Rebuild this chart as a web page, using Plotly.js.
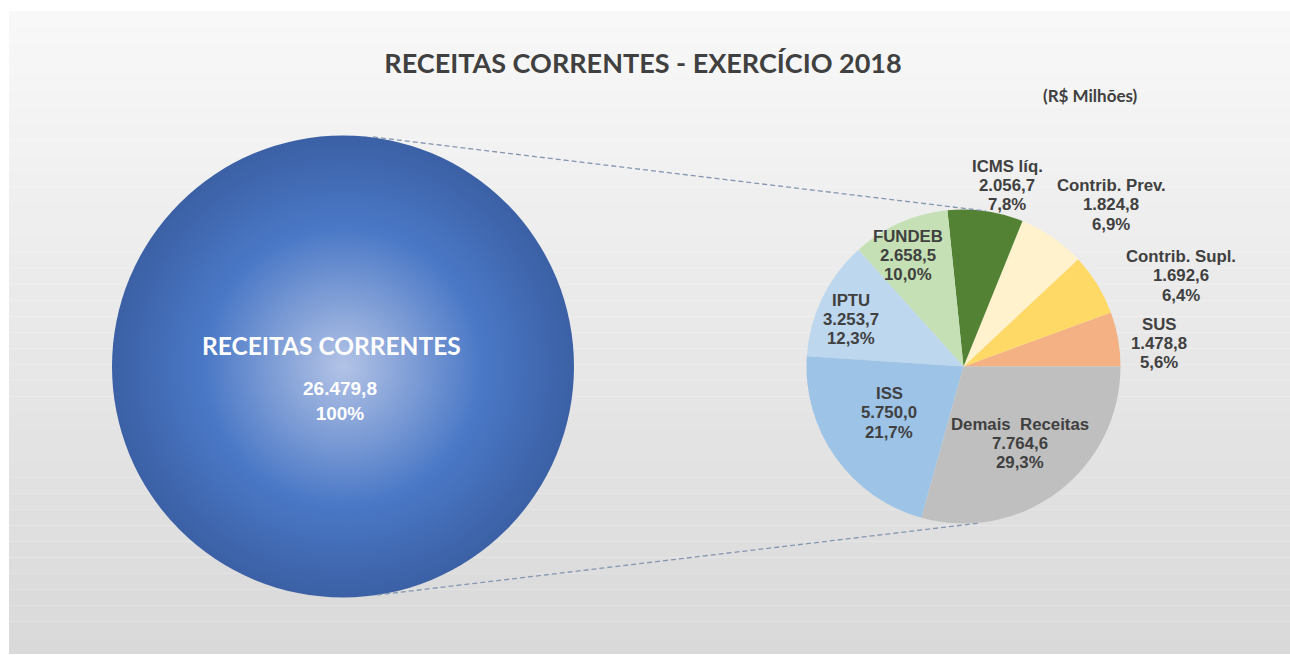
<!DOCTYPE html>
<html>
<head>
<meta charset="utf-8">
<script src="https://cdn.plot.ly/plotly-3.0.1.min.js"></script>
<style>html,body{margin:0;padding:0;background:#fff}#chart{width:1290px;height:655px}</style>
</head>
<body>
<div id="chart"></div>
<script>
// ---- DATA ----
const chartTitle = 'RECEITAS CORRENTES - EXERCÍCIO 2018';
const unitLabel = '(R$ Milhões)';
const totalLabel = 'RECEITAS CORRENTES';
const totalValue = 26479.8;
const sliceLabels = ['SUS', 'Contrib. Supl.', 'Contrib. Prev.', 'ICMS líq.', 'FUNDEB', 'IPTU', 'ISS', 'Demais  Receitas'];
const sliceValues = [1478.8, 1692.6, 1824.8, 2056.7, 2658.5, 3253.7, 5750.0, 7764.6];
const sliceColors = ['#f4b183', '#ffd966', '#fff2cc', '#548235', '#c5e0b4', '#bdd7ee', '#9dc3e6', '#bfbfbf'];

// ---- helpers ----
const W = 1290, H = 655;
function fmt(v) {
  const parts = v.toFixed(1).split('.');
  parts[0] = parts[0].replace(/\B(?=(\d{3})+(?!\d))/g, '.');
  return parts[0] + ',' + parts[1];
}
function pct(v) { return (v / totalValue * 100).toFixed(1).replace('.', ',') + '%'; }
const px = x => x / W;
const py = y => 1 - y / H;
const sliceSum = sliceValues.reduce((a, b) => a + b, 0);

// label anchor positions in pixels (middle line centre)
const labelPos = [[1159, 343.3], [1181, 275.7], [1111, 205], [1007, 185.7], [908, 255.7], [851, 319.3], [889, 412.7], [1020, 443.3]];
const lineGap = 19.3;

const annotations = [];
sliceLabels.forEach((lab, i) => {
  const lines = [lab, fmt(sliceValues[i]), pct(sliceValues[i])];
  lines.forEach((t, k) => {
    annotations.push({
      xref: 'paper', yref: 'paper', x: px(labelPos[i][0]), y: py(labelPos[i][1] + (k - 1) * lineGap),
      xanchor: 'center', yanchor: 'middle', showarrow: false, text: '<b>' + t + '</b>',
      font: {family: 'Liberation Sans, Arial, sans-serif', size: 16.8, color: '#404040'}
    });
  });
});
// centre circle texts
annotations.push({
  xref: 'x', yref: 'y', x: totalLabel, y: totalValue, xshift: -12, yshift: 21,
  showarrow: false, text: '<b>' + totalLabel + '</b>',
  font: {family: 'Lato, sans-serif', size: 24.5, color: '#ffffff'}
});
annotations.push({
  xref: 'x', yref: 'y', x: totalLabel, y: totalValue, xshift: -3, yshift: -34,
  showarrow: false, text: '<b>' + fmt(totalValue) + '<br>100%</b>',
  font: {family: 'Liberation Sans, Arial, sans-serif', size: 19, color: '#ffffff'}
});
// unit label
annotations.push({
  xref: 'paper', yref: 'paper', x: px(1090), y: py(95), xanchor: 'center', yanchor: 'middle',
  showarrow: false, text: '<b>' + unitLabel + '</b>',
  font: {family: 'Lato, sans-serif', size: 17, color: '#404040'}
});

// background gradient bands
const shapes = [];
const bgTop = 11, bgBot = 654, nb = 40;
for (let i = 0; i < nb; i++) {
  const t = i / (nb - 1);
  const g = Math.round(248 + (217 - 248) * t);
  shapes.push({
    type: 'rect', xref: 'paper', yref: 'paper', layer: 'below',
    x0: px(9), x1: 1, y0: py(bgTop + (bgBot - bgTop) * i / nb), y1: py(bgTop + (bgBot - bgTop) * (i + 1) / nb),
    fillcolor: `rgb(${g},${g},${g})`, line: {width: 0}
  });
}
// dashed connector lines
const dashLine = {color: '#8497b0', width: 1.3, dash: '5px,3px'};
shapes.push({type: 'line', xref: 'paper', yref: 'paper', x0: px(373), y0: py(137), x1: px(986), y1: py(211), line: dashLine, layer: 'above'});
shapes.push({type: 'line', xref: 'paper', yref: 'paper', x0: px(377), y0: py(595), x1: px(980), y1: py(523), line: dashLine, layer: 'above'});

const bigSize = 462;
const traces = [
  {
    type: 'scatter', mode: 'markers', x: [totalLabel], y: [totalValue], xaxis: 'x', yaxis: 'y',
    marker: {size: bigSize, color: '#3b60a5', gradient: {type: 'radial', color: 'rgb(97,156,248)'}, line: {width: 0}},
    hoverinfo: 'skip', showlegend: false, cliponaxis: false
  },
  {
    type: 'scatter', mode: 'markers', x: [totalLabel], y: [totalValue], xaxis: 'x', yaxis: 'y',
    marker: {size: bigSize * 0.6, color: '#4a78c6', gradient: {type: 'radial', color: '#b3c3e6'}, line: {width: 0}},
    hoverinfo: 'skip', showlegend: false, cliponaxis: false
  },
  {
    // counterclockwise pies in Plotly start the first slice clockwise of 'rotation',
    // so shift by the first slice's angle to make it begin at 3 o'clock
    type: 'pie', labels: sliceLabels, values: sliceValues, sort: false,
    direction: 'counterclockwise', rotation: 90 - 360 * sliceValues[0] / sliceSum,
    textinfo: 'none', hoverinfo: 'skip',
    marker: {colors: sliceColors, line: {width: 0}},
    domain: {x: [px(963.5 - 157), px(963.5 + 157)], y: [py(366.5 + 157), py(366.5 - 157)]},
    showlegend: false
  }
];

const layout = {
  width: W, height: H,
  margin: {l: 0, r: 0, t: 0, b: 0},
  paper_bgcolor: '#ffffff', plot_bgcolor: 'rgba(0,0,0,0)',
  title: {text: '<b>' + chartTitle + '</b>', font: {family: 'Lato, sans-serif', size: 27, color: '#404040'},
    x: px(643), xanchor: 'center', y: py(64), yanchor: 'middle', yref: 'container'},
  xaxis: {type: 'category', domain: [0, 686 / W], range: [-0.5, 0.5], visible: false, fixedrange: true},
  yaxis: {domain: [0, 2 * py(366.5)], range: [0, 2 * totalValue], visible: false, fixedrange: true},
  shapes: shapes, annotations: annotations, showlegend: false, hovermode: false
};

Plotly.newPlot('chart', traces, layout, {displayModeBar: false, staticPlot: true});
</script>
</body>
</html>
